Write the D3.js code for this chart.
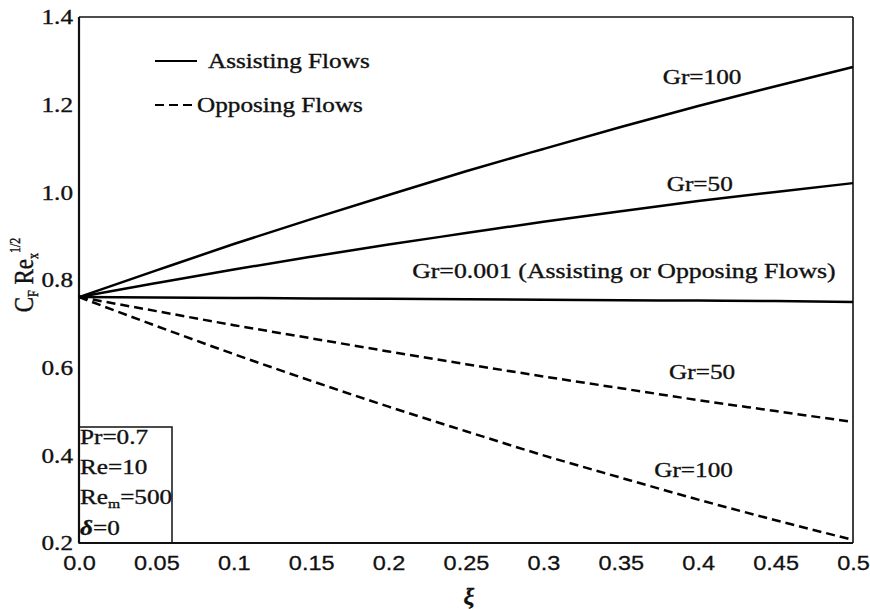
<!DOCTYPE html>
<html>
<head>
<meta charset="utf-8">
<script src="https://cdn.jsdelivr.net/npm/d3@7"></script>
<style>
  body { margin: 0; background: #fff; }
  .serif { font-family: "Liberation Serif", "Times New Roman", serif; fill: #111; stroke: #111; stroke-width: 0.35; }
</style>
</head>
<body>
<div id="chart"></div>
<script>
// chart values
let xi = [0, 0.05, 0.1, 0.15, 0.2, 0.25, 0.3, 0.35, 0.4, 0.45, 0.5]
let assistGr100 = [0.761, 0.822, 0.882, 0.939, 0.994, 1.048, 1.099, 1.149, 1.197, 1.242, 1.286]
let assistGr50 = [0.761, 0.793, 0.824, 0.853, 0.881, 0.907, 0.933, 0.957, 0.980, 1.001, 1.021]
let gr0001 = [0.761, 0.760, 0.759, 0.758, 0.757, 0.756, 0.755, 0.754, 0.753, 0.752, 0.750]
let opposeGr50 = [0.761, 0.729, 0.697, 0.667, 0.637, 0.608, 0.580, 0.553, 0.526, 0.501, 0.476]
let opposeGr100 = [0.761, 0.695, 0.631, 0.570, 0.511, 0.455, 0.400, 0.349, 0.299, 0.252, 0.207]
let xTicks = [0, 0.05, 0.1, 0.15, 0.2, 0.25, 0.3, 0.35, 0.4, 0.45, 0.5]
let yTicks = [0.2, 0.4, 0.6, 0.8, 1.0, 1.2, 1.4]
let curveNames = ['Gr=100', 'Gr=50', 'Gr=0.001 (Assisting or Opposing Flows)', 'Gr=50', 'Gr=100']
let paramLines = ['Pr=0.7', 'Re=10', 'Re_m=500', 'δ=0']

let width = 870,
  height = 609
let margin = { left: 79, right: 17, top: 17, bottom: 66 }
let stretch = 1.2 // the original's lettering is widened horizontally

let svg = d3.select('#chart')
  .append('svg')
  .attr('width', width)
  .attr('height', height)

let x = d3.scaleLinear().domain([0, 0.5]).range([margin.left, width - margin.right])
let y = d3.scaleLinear().domain([0.2, 1.4]).range([height - margin.bottom, margin.top])

// text placed at (px, py), widened like the scan
function wideText(parent, px, py, anchor, size) {
  return parent.append('g')
    .attr('transform', 'translate(' + px + ',' + py + ') scale(' + stretch + ',1)')
    .append('text')
    .attr('class', 'serif')
    .attr('text-anchor', anchor || 'start')
    .attr('font-size', size || 21)
}

// tick labels (no tick marks in the original)
let xAxis = svg.append('g')
  .attr('transform', 'translate(0,' + (height - margin.bottom) + ')')
  .call(d3.axisBottom(x).tickValues(xTicks).tickSize(0).tickPadding(12)
    .tickFormat(d => d === 0 ? '0.0' : String(d)))
xAxis.select('.domain').remove()
xAxis.selectAll('text')
  .attr('font-family', '"Liberation Sans", Arial, sans-serif')
  .attr('font-size', 21)
  .attr('fill', '#111')
  .attr('stroke', '#111')
  .attr('stroke-width', 0.3)
  .attr('transform', 'scale(1.12,1)')

let yAxis = svg.append('g')
  .attr('transform', 'translate(' + margin.left + ',0)')
  .call(d3.axisLeft(y).tickValues(yTicks).tickSize(0).tickPadding(5)
    .tickFormat(d3.format('.1f')))
yAxis.select('.domain').remove()
yAxis.selectAll('text')
  .attr('class', 'serif')
  .attr('font-family', null)
  .attr('font-size', 21)
  .attr('transform', 'scale(' + stretch + ',1)')

// frame
let x0 = x(0), x1 = x(0.5), y0 = y(0.2), y1 = y(1.4)
svg.append('line').attr('x1', x0).attr('x2', x0).attr('y1', y1).attr('y2', y0)
  .attr('stroke', '#111').attr('stroke-width', 2.2)
svg.append('line').attr('x1', x0).attr('x2', x1).attr('y1', y0).attr('y2', y0)
  .attr('stroke', '#111').attr('stroke-width', 2.2)
svg.append('line').attr('x1', x0).attr('x2', x1).attr('y1', y1).attr('y2', y1)
  .attr('stroke', '#111').attr('stroke-width', 1.6)
svg.append('line').attr('x1', x1).attr('x2', x1).attr('y1', y1).attr('y2', y0)
  .attr('stroke', '#111').attr('stroke-width', 1.6)

// curves
let line = d3.line()
  .x((d, i) => x(xi[i]))
  .y(d => y(d))
  .curve(d3.curveMonotoneX)

let series = [
  { values: assistGr100, dash: null },
  { values: assistGr50, dash: null },
  { values: gr0001, dash: null },
  { values: opposeGr50, dash: '9,5' },
  { values: opposeGr100, dash: '9,5' }
]

svg.selectAll('.curve')
  .data(series)
  .enter().append('path')
  .attr('class', 'curve')
  .attr('d', d => line(d.values))
  .attr('fill', 'none')
  .attr('stroke', '#000')
  .attr('stroke-width', 2.5)
  .attr('stroke-dasharray', d => d.dash)

// curve labels: [xi of centre, value at baseline]
let labelSpots = [[0.4025, 1.247], [0.401, 1.003], [0.352, 0.805], [0.4025, 0.574], [0.397, 0.351]]
curveNames.forEach((name, i) => {
  wideText(svg, x(labelSpots[i][0]), y(labelSpots[i][1]), 'middle', i === 2 ? 21.5 : 21)
    .text(name)
})

// legend
svg.append('line').attr('x1', 155).attr('x2', 197).attr('y1', 61).attr('y2', 61)
  .attr('stroke', '#000').attr('stroke-width', 2)
wideText(svg, 208, 68).text('Assisting Flows')
svg.append('line').attr('x1', 155).attr('x2', 196).attr('y1', 105).attr('y2', 105)
  .attr('stroke', '#000').attr('stroke-width', 2).attr('stroke-dasharray', '9,5')
wideText(svg, 197, 112).text('Opposing Flows')

// parameter box
svg.append('rect')
  .attr('x', x0).attr('y', 427)
  .attr('width', 93).attr('height', y0 - 427)
  .attr('fill', 'none').attr('stroke', '#111').attr('stroke-width', 1.5)
let paramBase = [444, 474, 504, 535]
paramLines.forEach((p, i) => {
  let t = wideText(svg, 80, paramBase[i])
  if (p.indexOf('_') > 0) {
    let parts = p.split('_')
    t.append('tspan').text(parts[0])
    t.append('tspan').attr('font-size', 13).attr('dy', 4).text(parts[1].charAt(0))
    t.append('tspan').attr('dy', -4).text(parts[1].slice(1))
  } else if (p.charAt(0) === 'δ') {
    t.append('tspan').attr('font-style', 'italic').attr('font-weight', 'bold').text('δ')
    t.append('tspan').text(p.slice(1))
  } else {
    t.text(p)
  }
})

// axis titles
let yTitle = svg.append('g')
  .attr('transform', 'translate(33,275) rotate(-90) scale(1,1.2)')
  .append('text')
  .attr('class', 'serif')
  .attr('text-anchor', 'middle')
  .attr('font-size', 23)
yTitle.append('tspan').text('C')
yTitle.append('tspan').attr('font-size', 12).attr('dy', 4).text('F')
yTitle.append('tspan').attr('dy', -4).text(' Re')
yTitle.append('tspan').attr('font-size', 12).attr('dy', 4).text('x')
yTitle.append('tspan').attr('font-size', 12).attr('dy', -15).text('1/2')

svg.append('text')
  .attr('class', 'serif')
  .attr('x', x(0.25) + 3)
  .attr('y', 604)
  .attr('text-anchor', 'middle')
  .attr('font-size', 24)
  .attr('font-style', 'italic')
  .attr('font-weight', 'bold')
  .text('ξ')
</script>
</body>
</html>
